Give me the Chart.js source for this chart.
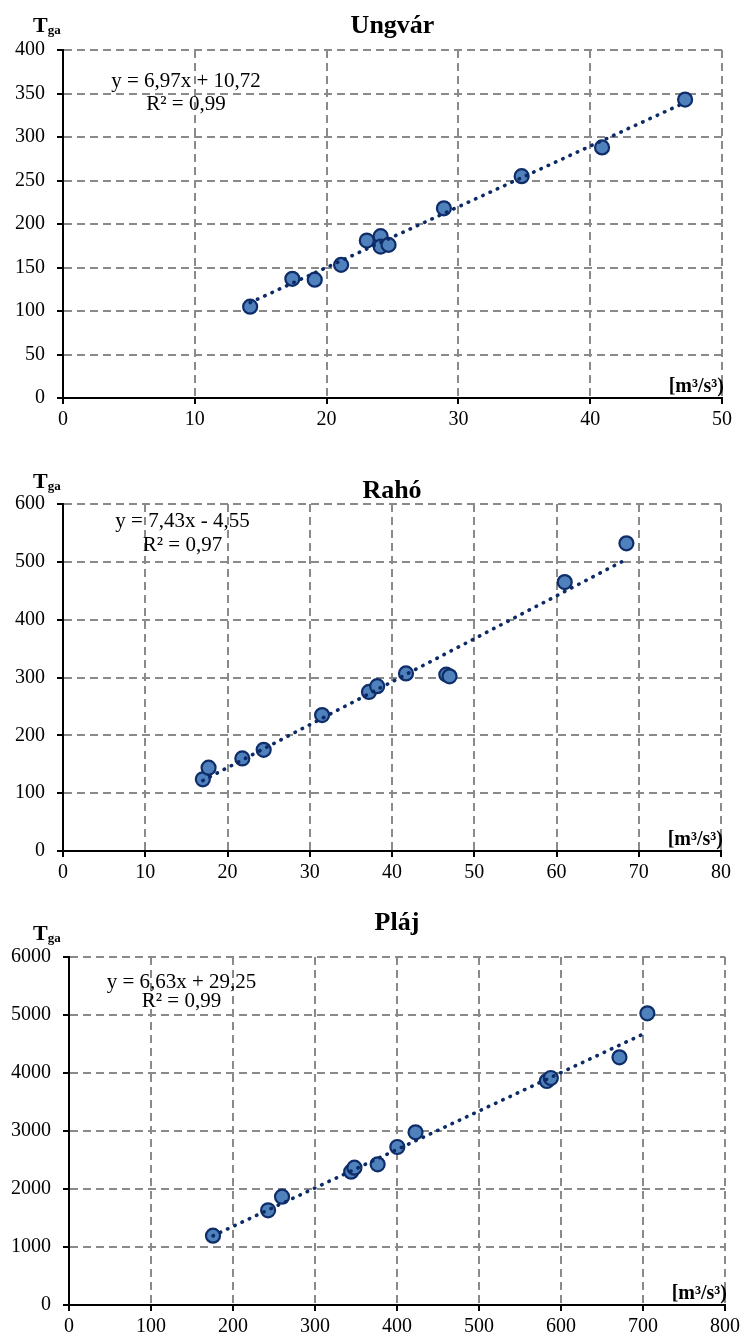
<!DOCTYPE html>
<html>
<head>
<meta charset="utf-8">
<script src="https://cdn.jsdelivr.net/npm/chart.js@4/dist/chart.umd.min.js"></script>
<style>
  body { margin: 0; background: #fff; width: 744px; height: 1342px; position: relative; overflow: hidden; }
  canvas { position: absolute; left: 0; }
</style>
</head>
<body>
<canvas id="ungvar" width="744" height="450" style="top:0px"></canvas>
<canvas id="raho" width="744" height="450" style="top:454px"></canvas>
<canvas id="plaj" width="744" height="435" style="top:907px"></canvas>
<script>
//DATI - Ungvár
var ungvarX = [14.2, 17.4, 19.1, 21.1, 23.05, 24.1, 24.1, 24.7, 28.9, 34.8, 40.9, 47.2];
var ungvarY = [105, 137, 136, 153, 181, 186, 174, 176, 218, 255, 288, 343];
var ungvarTrendX = [14.2, 47.2];
var ungvarTrendY = [109.7, 339.7];
var ungvarXTicks = [0, 10, 20, 30, 40, 50];
var ungvarYTicks = [0, 50, 100, 150, 200, 250, 300, 350, 400];

//DATI - Rahó
var rahoX = [17.0, 17.7, 21.8, 24.4, 31.5, 37.2, 38.2, 41.7, 46.6, 47.0, 61.0, 68.5];
var rahoY = [124, 144, 160, 175, 235, 275, 285, 307, 305, 302, 465, 532];
var rahoTrendX = [17.0, 68.5];
var rahoTrendY = [121.8, 504.4];
var rahoXTicks = [0, 10, 20, 30, 40, 50, 60, 70, 80];
var rahoYTicks = [0, 100, 200, 300, 400, 500, 600];

//DATI - Pláj
var plajX = [175.6, 242.8, 259.8, 344.1, 348.1, 376.4, 400.4, 422.6, 582.7, 587.6, 671.3, 705.3];
var plajY = [1195, 1633, 1867, 2299, 2368, 2425, 2724, 2977, 3862, 3914, 4270, 5029];
var plajTrendX = [175.6, 705.3];
var plajTrendY = [1193.5, 4705.4];
var plajXTicks = [0, 100, 200, 300, 400, 500, 600, 700, 800];
var plajYTicks = [0, 1000, 2000, 3000, 4000, 5000, 6000];

var unitLabel = '[m³/s³)';
var yLabel = ['T', 'ga'];

var SERIF = '"Liberation Serif", "Times New Roman", serif';

//plugin per i testi (titolo, T_ga, equazione, unità)
var chartTexts = {
  id: 'chartTexts',
  afterDraw: function (chart) {
    var t = chart.options.plugins.chartTexts;
    var ctx = chart.ctx;
    var area = chart.chartArea;
    ctx.save();
    ctx.fillStyle = '#000';
    ctx.textBaseline = 'alphabetic';

    ctx.font = 'bold 26px ' + SERIF;
    ctx.textAlign = 'center';
    ctx.fillText(t.title, (area.left + area.right) / 2, t.titleY);

    ctx.textAlign = 'left';
    ctx.font = 'bold 22px ' + SERIF;
    ctx.fillText(yLabel[0], t.tX, t.tY);
    var w = ctx.measureText(yLabel[0]).width;
    ctx.font = 'bold 13px ' + SERIF;
    ctx.fillText(yLabel[1], t.tX + w, t.tY + 2);

    ctx.font = '21px ' + SERIF;
    ctx.textAlign = 'center';
    ctx.fillText(t.eq, t.eqX, t.eqY);
    ctx.fillText(t.r2, t.eqX, t.eqY + t.eqGap);

    ctx.font = 'bold 20px ' + SERIF;
    ctx.textAlign = 'right';
    ctx.fillText(unitLabel, area.right + 2, area.bottom - 6);
    ctx.restore();
  }
};

function axisOptions(ticks, size) {
  return {
    type: 'linear',
    min: ticks[0],
    max: ticks[ticks.length - 1],
    afterFit: function (scale) {
      if (scale.axis === 'x') { scale.height = size; } else { scale.width = size; }
    },
    ticks: {
      stepSize: ticks[1] - ticks[0],
      color: '#000',
      font: { family: SERIF, size: 20 },
      padding: 0,
      callback: function (v) { return String(v); }
    },
    grid: {
      color: '#8a8a8a',
      lineWidth: 2,
      tickColor: '#000',
      tickWidth: 2,
      tickLength: 6
    },
    border: { display: true, color: '#000', width: 2, dash: [8, 5] }
  };
}

function generateGraph(id, xs, ys, trendX, trendY, xTicks, yTicks, box, texts) {
  var points = [];
  for (var i = 0; i < xs.length; i++) {
    points.push({ x: xs[i], y: ys[i] });
  }
  var trend = [];
  for (var j = 0; j < trendX.length; j++) {
    trend.push({ x: trendX[j], y: trendY[j] });
  }

  var xAxis = axisOptions(xTicks, box.xHeight);
  xAxis.ticks.padding = 4;
  var yAxis = axisOptions(yTicks, box.yWidth);
  yAxis.ticks.padding = 12;

  return new Chart(document.getElementById(id), {
    type: 'scatter',
    data: {
      datasets: [{
        type: 'line',
        data: trend,
        order: 0,
        showLine: true,
        fill: false,
        pointRadius: 0,
        borderColor: '#0c2a66',
        borderWidth: 3.6,
        borderDash: [0.5, 7.5],
        borderCapStyle: 'round'
      }, {
        data: points,
        order: 1,
        pointRadius: 7,
        pointBackgroundColor: '#4f81bd',
        pointBorderColor: '#0f2d69',
        pointBorderWidth: 2.2
      }]
    },
    options: {
      responsive: false,
      animation: false,
      devicePixelRatio: 1,
      layout: { padding: { top: 50, right: box.right, left: 0, bottom: 0 } },
      scales: { x: xAxis, y: yAxis },
      plugins: {
        legend: { display: false },
        tooltip: { enabled: false },
        title: { display: false },
        chartTexts: texts
      }
    },
    plugins: [chartTexts]
  });
}

generateGraph('ungvar', ungvarX, ungvarY, ungvarTrendX, ungvarTrendY, ungvarXTicks, ungvarYTicks,
  { yWidth: 63, xHeight: 52, right: 22 },
  { title: 'Ungvár', titleY: 33, tX: 33, tY: 32, eq: 'y = 6,97x + 10,72', r2: 'R² = 0,99', eqX: 186, eqY: 87, eqGap: 23 });

generateGraph('raho', rahoX, rahoY, rahoTrendX, rahoTrendY, rahoXTicks, rahoYTicks,
  { yWidth: 63, xHeight: 53, right: 23 },
  { title: 'Rahó', titleY: 44, tX: 33, tY: 34, eq: 'y = 7,43x - 4,55', r2: 'R² = 0,97', eqX: 182.5, eqY: 73, eqGap: 24 });

generateGraph('plaj', plajX, plajY, plajTrendX, plajTrendY, plajXTicks, plajYTicks,
  { yWidth: 69, xHeight: 37, right: 19 },
  { title: 'Pláj', titleY: 23, tX: 33, tY: 33, eq: 'y = 6,63x + 29,25', r2: 'R² = 0,99', eqX: 181.5, eqY: 81, eqGap: 19 });
</script>
</body>
</html>
